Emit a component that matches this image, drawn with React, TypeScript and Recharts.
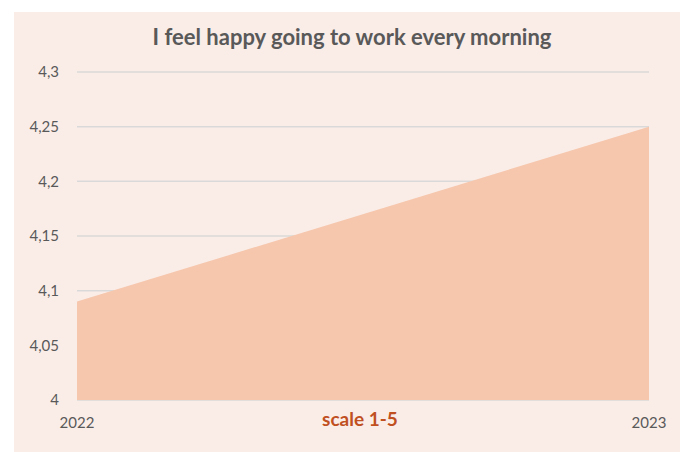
import { AreaChart, Area, XAxis, YAxis, CartesianGrid } from 'recharts'

const years = ['2022', '2023']
const happyScores = [4.09, 4.25]
const yTicks = [4, 4.05, 4.1, 4.15, 4.2, 4.25, 4.3]

const data = years.map((year, i) => ({ year, score: happyScores[i] }))

const font = 'Lato, "Noto Sans", sans-serif'

export default function App() {
  return (
    <div style={{ position: 'absolute', left: 0, top: 0, width: 680, height: 452, background: '#ffffff' }}>
      <div
        style={{
          position: 'absolute',
          left: 14,
          top: 12,
          width: 666,
          height: 440,
          background: '#FAEDE8',
          fontFamily: font,
        }}
      >
        <div
          style={{
            position: 'absolute',
            left: 0,
            top: 11,
            width: 676,
            textAlign: 'center',
            fontSize: 22,
            fontWeight: 700,
            color: '#595959',
          }}
        >
          I feel happy going to work every morning
        </div>
        <AreaChart width={666} height={440} data={data} margin={{ top: 60, right: 31, left: 0, bottom: 22 }}>
          <CartesianGrid vertical={false} stroke="#D9D9D9" strokeWidth={1.5} />
          <XAxis
            dataKey="year"
            axisLine={false}
            tickLine={false}
            tickSize={0}
            tickMargin={17}
            height={30}
            tick={{ fill: '#595959', fontSize: 15, fontFamily: font }}
          />
          <YAxis
            width={63}
            domain={[4, 4.3]}
            ticks={yTicks}
            axisLine={false}
            tickLine={false}
            tickSize={0}
            tickMargin={18}
            tickFormatter={(v: number) => String(v).replace('.', ',')}
            tick={{ fill: '#595959', fontSize: 15, fontFamily: font }}
          />
          <Area
            type="linear"
            dataKey="score"
            stroke="none"
            fill="#F6C7AD"
            fillOpacity={1}
            isAnimationActive={false}
          />
        </AreaChart>
        <div
          style={{
            position: 'absolute',
            left: 296,
            top: 395,
            width: 100,
            textAlign: 'center',
            fontSize: 19,
            fontWeight: 700,
            color: '#C0501F',
          }}
        >
          scale 1-5
        </div>
      </div>
    </div>
  )
}
